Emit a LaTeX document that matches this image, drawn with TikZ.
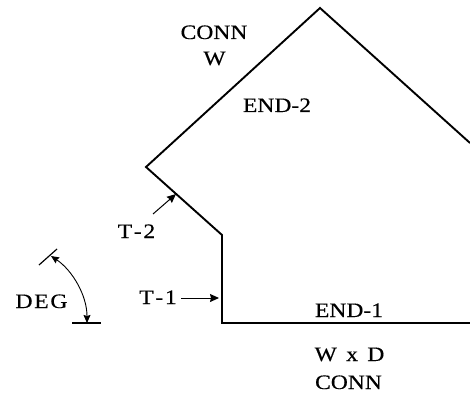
\documentclass[tikz,border=0pt]{standalone}
\usepackage{fontspec}
\newfontfamily\lblfont[FakeBold=0.4]{Liberation Serif}
\usetikzlibrary{arrows.meta}
\tikzset{
  lbl/.style={inner sep=0pt,anchor=base,font=\lblfont\fontsize{20.5}{20.5}\selectfont,xscale=1.15},
  outline/.style={line width=1.9pt,line join=miter,line cap=butt},
  thinline/.style={line width=1.2pt},
  lead/.style={line width=1pt,-{Stealth[length=9pt,width=8pt,inset=1pt]}}
}
\begin{document}
\begin{tikzpicture}[x=1pt,y=-1pt]
\useasboundingbox (0,0) rectangle (470,395);
% outline
\coordinate (bl) at (222,323);
\coordinate (kink) at (222,235);
\coordinate (left) at (146,167);
\coordinate (apex) at (320,8);
\coordinate (rt) at (470,143);
\coordinate (br) at (470,323);
\draw[outline] (rt) -- (apex) -- (left) -- (kink) -- (bl) -- (br);
% labels
\node[lbl] (conn1) at (214,39) {CONN};
\node[lbl] (w) at (214.5,65) {W};
\node[lbl] (end2) at (277,112) {END-2};
\node[lbl] (end1) at (349,317) {END-1};
\node[lbl] (wxd) at (349.5,361) {W\kern3pt\ x\kern3pt\ D};
\node[lbl] (conn2) at (348.5,389) {CONN};
\node[lbl] (t2) at (136.5,238) {T\kern1.5pt-\kern1.5pt2};
\node[lbl] (t1) at (158,304) {T\kern1.5pt-\kern1.5pt1};
\node[lbl] (deg) at (41.5,308) {D\kern1.5pt E\kern1.5pt G};
% leaders
\coordinate (t2s) at (153,214);
\coordinate (t2e) at (176,194);
\coordinate (t1s) at (181,298);
\coordinate (t1e) at (219,298);
\draw[lead] (t2s) -- (t2e);
\draw[lead] (t1s) -- (t1e);
% angle
\coordinate (ta) at (39,265);
\coordinate (tb) at (57,249);
\coordinate (ba) at (72,323);
\coordinate (bb) at (101,323);
\coordinate (am) at (51,256);
\coordinate (an) at (87,323);
\draw[thinline] (ta) -- (tb);
\draw[line width=1.9pt] (ba) -- (bb);
\draw[line width=0.9pt,{Stealth[length=8pt,width=7pt,inset=1pt]}-{Stealth[length=8pt,width=7pt,inset=1pt]}] (am) .. controls (72,270) and (87,295) .. (an);
\end{tikzpicture}
\end{document}
